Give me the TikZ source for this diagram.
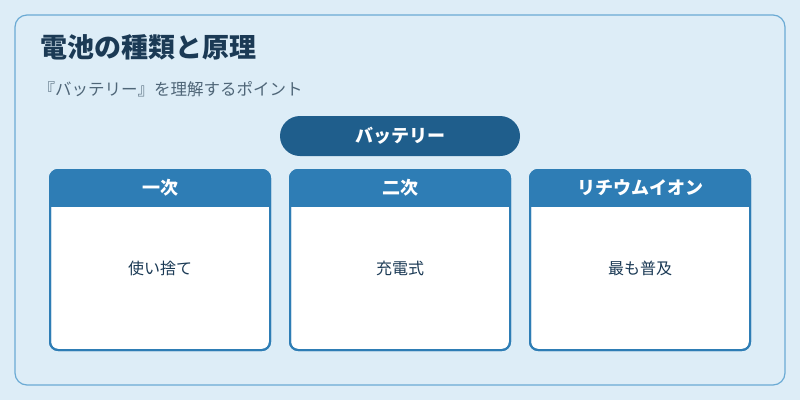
\documentclass[tikz,border=0pt]{standalone}
\usepackage{fontspec}
\newfontfamily\cjk{Noto Sans CJK JP}
\definecolor{bg}{HTML}{DDEDF7}
\definecolor{frame}{HTML}{6AAAD4}
\definecolor{titlec}{HTML}{1B3A55}
\definecolor{subc}{HTML}{4F6678}
\definecolor{pill}{HTML}{1F5E8C}
\definecolor{head}{HTML}{2E7DB5}
\begin{document}
\begin{tikzpicture}[x=1pt,y=-1pt,
  card/.style={draw=head,line width=2pt,fill=white,rounded corners=8pt},
  hdtext/.style={text=white,font=\cjk\bfseries\fontsize{18}{21}\selectfont},
  bodytext/.style={text=titlec,font=\cjk\fontsize{16}{19}\selectfont}]
\useasboundingbox (0,0) rectangle (800,400);
\fill[bg] (0,0) rectangle (800,400);
\draw[frame,line width=1.2pt,rounded corners=12pt,fill=bg] (15,15) rectangle (785,385);
\node[anchor=west,text=titlec,font=\cjk\bfseries\fontsize{27}{31}\selectfont] (title) at (37,47) {電池の種類と原理};
\node[anchor=west,text=subc,font=\cjk\fontsize{16.5}{19}\selectfont] (sub) at (35,89) {『バッテリー』を理解するポイント};
\node[fill=pill,rounded corners=20pt,minimum width=240pt,minimum height=40pt,hdtext] (top) at (400,136) {バッテリー};
\foreach \x/\h/\b/\n in {50/一次/使い捨て/a,290/二次/充電式/b,530/リチウムイオン/最も普及/c}{
  \draw[card] (\x,170) rectangle ++(220,180);
  \begin{scope}
    \clip[rounded corners=8pt] (\x,170) rectangle ++(220,180);
    \fill[head] (\x,170) rectangle ++(220,37);
  \end{scope}
  \draw[head,line width=2pt,rounded corners=8pt] (\x,170) rectangle ++(220,180);
  \node[hdtext] (h\n) at (\x+110,188) {\h};
  \node[bodytext] (b\n) at (\x+110,268) {\b};
}
\end{tikzpicture}
\end{document}
